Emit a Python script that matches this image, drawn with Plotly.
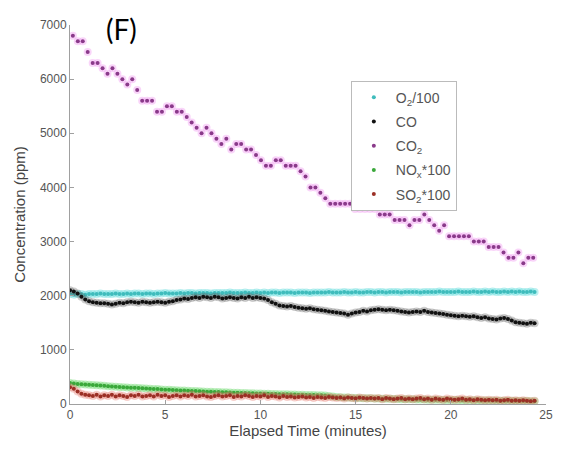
import plotly.graph_objects as go

# ---------------- data ----------------
# CO2 sampling times (minutes)
t_co2 = [0.15, 0.41, 0.67, 0.93, 1.19, 1.45, 1.71, 1.97, 2.23, 2.49,
         2.75, 3.01, 3.27, 3.53, 3.79, 4.05, 4.31, 4.57, 4.83, 5.09,
         5.35, 5.61, 5.87, 6.13, 6.39, 6.65, 6.91, 7.17, 7.43, 7.69,
         7.95, 8.21, 8.47, 8.73, 8.99, 9.25, 9.51, 9.77, 10.03, 10.29,
         10.55, 10.81, 11.07, 11.33, 11.59, 11.85, 12.11, 12.37, 12.63, 12.89,
         13.15, 13.41, 13.67, 13.93, 14.19, 14.45, 14.71, 14.97, 15.23, 15.49,
         15.75, 16.01, 16.27, 16.53, 16.79, 17.05, 17.31, 17.57, 17.83, 18.09,
         18.35, 18.61, 18.87, 19.13, 19.39, 19.65, 19.91, 20.17, 20.43, 20.69,
         20.95, 21.21, 21.47, 21.73, 21.99, 22.25, 22.51, 22.77, 23.03, 23.29,
         23.55, 23.81, 24.07, 24.33]
co2 = [6800, 6700, 6700, 6500, 6300, 6300, 6200, 6100, 6200, 6100,
       6000, 5900, 6000, 5800, 5600, 5600, 5600, 5400, 5400, 5500,
       5500, 5400, 5400, 5300, 5200, 5100, 5000, 5100, 5000, 4900,
       4800, 4900, 4700, 4800, 4800, 4700, 4700, 4600, 4500, 4400,
       4400, 4500, 4500, 4400, 4400, 4400, 4300, 4200, 4000, 4000,
       3900, 3800, 3700, 3700, 3700, 3700, 3700, 3600, 3600, 3600,
       3600, 3600, 3500, 3500, 3500, 3400, 3400, 3400, 3300, 3400,
       3400, 3500, 3400, 3300, 3200, 3300, 3100, 3100, 3100, 3100,
       3100, 3000, 3000, 3000, 2900, 2900, 2900, 2800, 2700, 2700,
       2800, 2600, 2700, 2700]

# fast-sampled series times (minutes)
t_fast = [0.0, 0.2, 0.4, 0.6, 0.8, 1.0, 1.2, 1.4, 1.6, 1.8,
          2.0, 2.2, 2.4, 2.6, 2.8, 3.0, 3.2, 3.4, 3.6, 3.8,
          4.0, 4.2, 4.4, 4.6, 4.8, 5.0, 5.2, 5.4, 5.6, 5.8,
          6.0, 6.2, 6.4, 6.6, 6.8, 7.0, 7.2, 7.4, 7.6, 7.8,
          8.0, 8.2, 8.4, 8.6, 8.8, 9.0, 9.2, 9.4, 9.6, 9.8,
          10.0, 10.2, 10.4, 10.6, 10.8, 11.0, 11.2, 11.4, 11.6, 11.8,
          12.0, 12.2, 12.4, 12.6, 12.8, 13.0, 13.2, 13.4, 13.6, 13.8,
          14.0, 14.2, 14.4, 14.6, 14.8, 15.0, 15.2, 15.4, 15.6, 15.8,
          16.0, 16.2, 16.4, 16.6, 16.8, 17.0, 17.2, 17.4, 17.6, 17.8,
          18.0, 18.2, 18.4, 18.6, 18.8, 19.0, 19.2, 19.4, 19.6, 19.8,
          20.0, 20.2, 20.4, 20.6, 20.8, 21.0, 21.2, 21.4, 21.6, 21.8,
          22.0, 22.2, 22.4, 22.6, 22.8, 23.0, 23.2, 23.4, 23.6, 23.8,
          24.0, 24.2, 24.4]

o2_div100 = [2030, 2020, 2030, 2030, 2020, 2030, 2030, 2030, 2040, 2030,
             2030, 2030, 2040, 2030, 2030, 2040, 2030, 2040, 2040, 2030,
             2040, 2040, 2030, 2040, 2040, 2050, 2040, 2040, 2040, 2050,
             2040, 2050, 2050, 2040, 2050, 2050, 2050, 2040, 2050, 2050,
             2050, 2050, 2060, 2050, 2050, 2050, 2060, 2050, 2050, 2060,
             2050, 2060, 2050, 2060, 2060, 2050, 2060, 2060, 2060, 2050,
             2060, 2060, 2060, 2050, 2060, 2060, 2060, 2060, 2070, 2060,
             2060, 2060, 2070, 2060, 2060, 2070, 2060, 2060, 2070, 2070,
             2060, 2070, 2070, 2060, 2070, 2070, 2070, 2060, 2070, 2070,
             2070, 2070, 2060, 2070, 2070, 2070, 2070, 2080, 2070, 2070,
             2070, 2070, 2080, 2070, 2070, 2070, 2080, 2070, 2070, 2080,
             2070, 2080, 2070, 2070, 2080, 2070, 2080, 2070, 2080, 2070,
             2070, 2080, 2070]

co = [2100, 2080, 2040, 1980, 1930, 1900, 1880, 1870, 1860, 1860,
      1850, 1840, 1850, 1870, 1860, 1880, 1890, 1880, 1870, 1890,
      1880, 1870, 1880, 1890, 1880, 1870, 1890, 1900, 1920, 1930,
      1950, 1940, 1960, 1970, 1960, 1980, 1970, 1960, 1980, 1970,
      1950, 1960, 1970, 1960, 1950, 1970, 1960, 1980, 1960, 1970,
      1960, 1950, 1920, 1880, 1850, 1820, 1810, 1800, 1810, 1790,
      1780, 1770, 1760, 1770, 1750, 1740, 1730, 1720, 1710, 1700,
      1690, 1680, 1670, 1650, 1670, 1690, 1700, 1720, 1710, 1730,
      1740, 1750, 1740, 1730, 1740, 1730, 1720, 1710, 1700, 1690,
      1700, 1710, 1700, 1720, 1700, 1690, 1680, 1670, 1660, 1650,
      1640, 1630, 1620, 1630, 1620, 1610, 1620, 1600, 1590, 1600,
      1580, 1570, 1560, 1580, 1590, 1570, 1540, 1510, 1500, 1490,
      1480, 1500, 1490]

nox_x100 = [390, 380, 370, 365, 360, 355, 350, 345, 340, 335,
            330, 325, 320, 315, 310, 305, 300, 298, 295, 290,
            285, 280, 278, 275, 270, 265, 262, 260, 255, 250,
            248, 245, 240, 238, 235, 230, 228, 225, 222, 220,
            218, 215, 212, 210, 208, 205, 202, 200, 198, 195,
            193, 190, 188, 186, 184, 182, 180, 178, 176, 174,
            172, 170, 168, 166, 164, 162, 160, 158, 150, 140,
            130, 125, 120, 118, 115, 112, 110, 108, 106, 104,
            102, 100, 98, 96, 95, 94, 92, 90, 88, 87,
            86, 85, 84, 82, 80, 79, 78, 77, 76, 75,
            74, 73, 72, 71, 70, 69, 68, 67, 66, 65,
            64, 63, 62, 61, 60, 59, 58, 57, 56, 55,
            54, 53, 52]

so2_x100 = [310, 280, 230, 190, 170, 160, 150, 170, 140, 160,
            150, 170, 140, 160, 150, 130, 160, 150, 170, 140,
            150, 160, 140, 170, 150, 160, 130, 150, 160, 140,
            160, 150, 170, 140, 150, 160, 140, 130, 150, 160,
            140, 150, 160, 130, 150, 140, 160, 150, 130, 150,
            140, 160, 130, 150, 140, 120, 150, 130, 140, 120,
            130, 140, 120, 130, 110, 130, 120, 110, 130, 120,
            110, 120, 100, 120, 110, 100, 120, 110, 100, 110,
            100, 110, 90, 110, 100, 90, 100, 110, 90, 100,
            90, 100, 110, 90, 100, 80, 100, 90, 80, 100,
            90, 80, 90, 100, 80, 90, 70, 90, 80, 70,
            80, 70, 80, 60, 70, 80, 60, 70, 60, 70,
            60, 50, 60]

series = [
    ("O<sub>2</sub>/100", t_fast, o2_div100, "#3fbcbc", "rgba(120,225,225,0.5)"),
    ("CO", t_fast, co, "#111111", "rgba(90,90,90,0.3)"),
    ("CO<sub>2</sub>", t_co2, co2, "#8a3a8a", "rgba(240,150,240,0.4)"),
    ("NO<sub>x</sub>*100", t_fast, nox_x100, "#3aa83a", "rgba(120,220,120,0.45)"),
    ("SO<sub>2</sub>*100", t_fast, so2_x100, "#9b2f25", "rgba(230,120,110,0.35)"),
]

fig = go.Figure()
for i, (name, tx, vals, col, halo) in enumerate(series):
    fig.add_trace(go.Scatter(x=tx, y=vals, mode="markers", showlegend=False,
                             hoverinfo="skip", legendgroup=f"g{i}",
                             marker=dict(size=8, color=halo, line=dict(width=0))))
    fig.add_trace(go.Scatter(x=tx, y=vals, mode="markers", name=name,
                             legendgroup=f"g{i}",
                             marker=dict(size=4, color=col, line=dict(width=0))))

axis_common = dict(showline=True, linecolor="#a0a0a0", linewidth=1,
                   ticks="inside", ticklen=4, tickcolor="#a0a0a0",
                   showgrid=False, zeroline=False, mirror=False,
                   tickfont=dict(family="Liberation Sans, Arial", size=12, color="#555555"))

fig.update_layout(
    width=565, height=449,
    margin=dict(l=70, r=12, t=25, b=41),
    paper_bgcolor="white", plot_bgcolor="white",
    xaxis=dict(range=[0, 25], tickvals=[0, 5, 10, 15, 20, 25],
               title=dict(text="Elapsed Time (minutes)", standoff=4,
                          font=dict(family="Liberation Sans, Arial", size=15, color="#444444")),
               **axis_common),
    yaxis=dict(range=[0, 7000], tickvals=[0, 1000, 2000, 3000, 4000, 5000, 6000, 7000],
               title=dict(text="Concentration (ppm)", standoff=10,
                          font=dict(family="Liberation Sans, Arial", size=15, color="#444444")),
               **axis_common),
    legend=dict(x=0.59, y=0.853, xanchor="left", yanchor="top",
                traceorder="grouped", tracegroupgap=3, itemwidth=34,
                bgcolor="white", bordercolor="#bbbbbb", borderwidth=1,
                font=dict(family="Liberation Sans, Arial", size=14, color="#555555")),
    annotations=[dict(text="(F)", x=0.108, y=0.99, xref="paper", yref="paper",
                      xanchor="center", yanchor="middle", showarrow=False,
                      font=dict(family="Lato, Open Sans", size=28, color="black"))],
)

fig.write_html("out.html")
